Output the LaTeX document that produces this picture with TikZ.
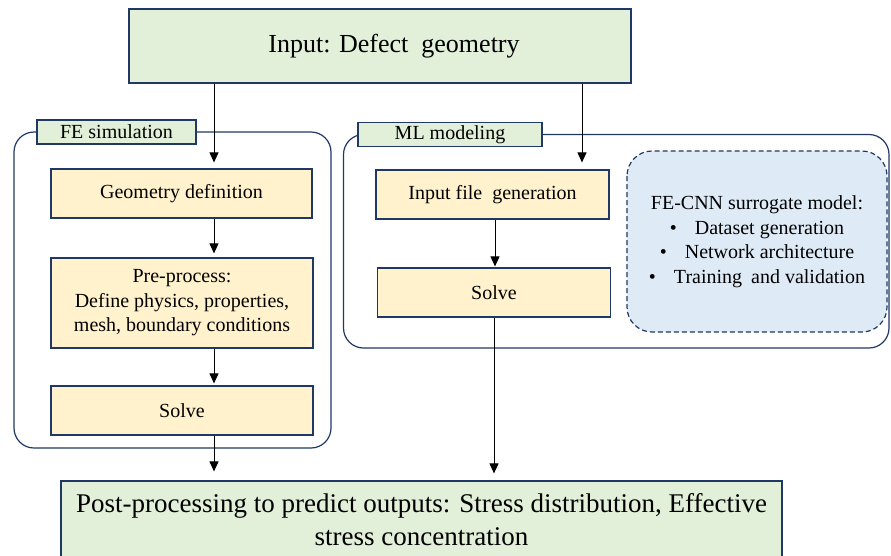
\documentclass[tikz,border=0pt]{standalone}
\usepackage{fontspec}
\setmainfont{Liberation Serif}
\usetikzlibrary{arrows.meta}
\definecolor{navy}{HTML}{203864}
\definecolor{gfill}{HTML}{E2EFD9}
\definecolor{yfill}{HTML}{FFF2CC}
\definecolor{bfill}{HTML}{DEEBF7}
\begin{document}
\begin{tikzpicture}[x=1pt,y=-1pt,
  base/.style={draw=navy,line width=1.2pt,inner sep=0pt,align=center,font=\fontsize{20}{24.5}\selectfont},
  greenbox/.style={base,fill=gfill},
  yellowbox/.style={base,fill=yfill},
  bigtext/.style={font=\fontsize{27}{33}\selectfont},
  container/.style={draw=navy,line width=1.2pt,rounded corners=20pt},
  arr/.style={draw=black,line width=1pt,-{Triangle[length=10pt,width=9pt]}}
]
\clip (0,0) rectangle (891,555);
\useasboundingbox (0,0) rectangle (891,555);
\fill[white] (0,0) rectangle (891,555);

% top input
\node[greenbox,minimum width=502pt,minimum height=74pt] (inp) at (380,46) {};
\node[inner sep=0pt,font=\fontsize{26}{33}\selectfont] (inptext) at (394,46) {Input: Defect\hspace{0.25em} geometry};

% FE container
\draw[container] (14,132) rectangle (331,448);
\node[greenbox,minimum width=159pt,minimum height=24pt] (felabel) at (116.5,132) {FE simulation};
\node[yellowbox,minimum width=261pt,minimum height=49pt] (geo) at (181.5,193.5) {Geometry definition};
\node[yellowbox,minimum width=262pt,minimum height=90pt] (pre) at (182,303) {Pre-process:\\Define physics, properties,\\mesh, boundary conditions};
\node[yellowbox,minimum width=262pt,minimum height=49pt] (fesolve) at (182,410.5) {Solve};

% ML container
\draw[container] (343.5,134.5) rectangle (889,348);
\node[greenbox,minimum width=184pt,minimum height=24pt] (mllabel) at (450,134.5) {ML modeling};
\node[yellowbox,minimum width=233pt,minimum height=49pt] (ifg) at (492.5,194.5) {Input file\hspace{0.25em} generation};
\node[yellowbox,minimum width=233pt,minimum height=49pt] (mlsolve) at (494,292.5) {Solve};
\draw[navy,line width=1.2pt,dash pattern=on 5pt off 3pt,fill=bfill,rounded corners=25pt] (627,151) rectangle (887,332);
\node[align=center,inner sep=0pt,font=\fontsize{20}{24.5}\selectfont] (fecnn) at (757,241.5)
  {FE-CNN surrogate model:\\
   \textbullet\hspace{0.9em}Dataset generation\\
   \textbullet\hspace{0.9em}Network architecture\\
   \textbullet\hspace{0.9em}Training\hspace{0.2em} and validation};

% output
\node[greenbox,bigtext,minimum width=721pt,minimum height=78pt] (post) at (421.5,520)
  {Post-processing to predict outputs: Stress distribution, Effective\\stress concentration};

% connector columns
\coordinate (cfe) at (214,0);
\coordinate (cml) at (582,0);
\coordinate (cmid) at (495,0);

\draw[arr] (inp.south -| cfe) -- ([yshift=6pt]geo.north -| cfe);
\draw[arr] (inp.south -| cml) -- ([yshift=7pt]ifg.north -| cml);
\draw[arr] (geo.south -| cfe) -- ([yshift=4pt]pre.north -| cfe);
\draw[arr] (pre.south -| cfe) -- ([yshift=2pt]fesolve.north -| cfe);
\draw[arr] (ifg.south -| cmid) -- ([yshift=1pt]mlsolve.north -| cmid);
\draw[arr] (fesolve.south -| cfe) -- ([yshift=9pt]post.north -| cfe);
\draw[arr] (mlsolve.south) -- ([yshift=7pt]post.north -| mlsolve.south);
\end{tikzpicture}
\end{document}
